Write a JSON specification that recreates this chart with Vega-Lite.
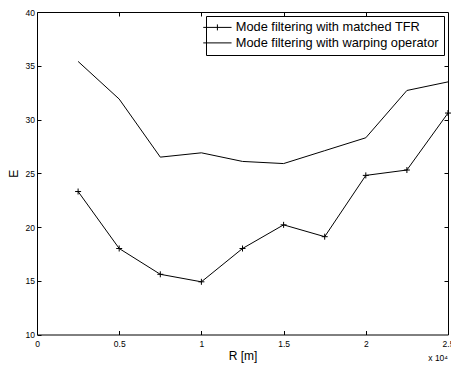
{
  "$schema": "https://vega.github.io/schema/vega-lite/v6.json",
  "width": 411,
  "height": 322.5,
  "autosize": {"type": "none"},
  "padding": {"left": 37, "top": 12, "right": 3, "bottom": 30.5},
  "background": "white",
  "datasets": {
    "curves": [
      {"R": 2500, "E": 23.3, "series": "Mode filtering with matched TFR"},
      {"R": 5000, "E": 18.0, "series": "Mode filtering with matched TFR"},
      {"R": 7500, "E": 15.6, "series": "Mode filtering with matched TFR"},
      {"R": 10000, "E": 14.9, "series": "Mode filtering with matched TFR"},
      {"R": 12500, "E": 18.0, "series": "Mode filtering with matched TFR"},
      {"R": 15000, "E": 20.2, "series": "Mode filtering with matched TFR"},
      {"R": 17500, "E": 19.1, "series": "Mode filtering with matched TFR"},
      {"R": 20000, "E": 24.8, "series": "Mode filtering with matched TFR"},
      {"R": 22500, "E": 25.3, "series": "Mode filtering with matched TFR"},
      {"R": 25000, "E": 30.6, "series": "Mode filtering with matched TFR"},
      {"R": 2500, "E": 35.4, "series": "Mode filtering with warping operator"},
      {"R": 5000, "E": 31.9, "series": "Mode filtering with warping operator"},
      {"R": 7500, "E": 26.5, "series": "Mode filtering with warping operator"},
      {"R": 10000, "E": 26.9, "series": "Mode filtering with warping operator"},
      {"R": 12500, "E": 26.1, "series": "Mode filtering with warping operator"},
      {"R": 15000, "E": 25.9, "series": "Mode filtering with warping operator"},
      {"R": 17500, "E": 27.1, "series": "Mode filtering with warping operator"},
      {"R": 20000, "E": 28.3, "series": "Mode filtering with warping operator"},
      {"R": 22500, "E": 32.7, "series": "Mode filtering with warping operator"},
      {"R": 25000, "E": 33.5, "series": "Mode filtering with warping operator"}
    ],
    "scaleNote": [{"R": 25000, "E": 10, "label": "x 10⁴"}]
  },
  "config": {
    "font": "Liberation Sans",
    "view": {"stroke": "black", "strokeWidth": 1},
    "axis": {
      "grid": false,
      "domain": false,
      "tickColor": "black",
      "tickWidth": 1,
      "tickSize": -4,
      "labelColor": "black",
      "labelFont": "Liberation Sans",
      "labelFontSize": 8.5,
      "titleColor": "black",
      "titleFont": "Liberation Sans",
      "titleFontSize": 12,
      "titleFontWeight": "normal"
    },
    "legend": {
      "orient": "top-right",
      "offset": 4,
      "strokeColor": "black",
      "fillColor": "white",
      "cornerRadius": 0,
      "padding": 5,
      "labelFont": "Liberation Sans",
      "labelFontSize": 12.8,
      "labelColor": "black",
      "labelLimit": 0,
      "symbolStrokeWidth": 1,
      "symbolSize": 36,
      "labelOffset": 12,
      "rowPadding": 1.5
    }
  },
  "resolve": {"axis": {"x": "independent", "y": "independent"}},
  "layer": [
    {
      "data": {"name": "curves"},
      "mark": {"type": "line", "strokeWidth": 1},
      "encoding": {
        "x": {
          "field": "R",
          "type": "quantitative",
          "scale": {"domain": [0, 25000], "nice": false, "zero": false},
          "axis": {
            "orient": "bottom",
            "title": "R [m]",
            "values": [0, 5000, 10000, 15000, 20000, 25000],
            "labelExpr": "datum.value / 10000 + ''",
            "labelFlush": false,
            "labelPadding": 8.5,
            "titlePadding": 3
          }
        },
        "y": {
          "field": "E",
          "type": "quantitative",
          "scale": {"domain": [10, 40], "nice": false, "zero": false},
          "axis": {
            "orient": "left",
            "title": "E",
            "values": [10, 15, 20, 25, 30, 35, 40],
            "labelFlush": false,
            "labelPadding": 6.5,
            "titlePadding": 5
          }
        },
        "stroke": {
          "field": "series",
          "type": "nominal",
          "scale": {
            "domain": ["Mode filtering with matched TFR", "Mode filtering with warping operator"],
            "range": ["black", "black"]
          },
          "legend": {
            "title": null,
            "encode": {
              "symbols": {
                "update": {
                  "shape": {"signal": "datum.value === 'Mode filtering with matched TFR' ? 'M-4.72,0H4.72M0,-1V1' : 'M-4.72,0H4.72'"}
                }
              }
            }
          }
        }
      }
    },
    {
      "data": {"name": "curves"},
      "transform": [{"filter": "datum.series === 'Mode filtering with matched TFR'"}],
      "mark": {
        "type": "point",
        "shape": "M-1,0H1M0,-1V1",
        "size": 36,
        "filled": false,
        "stroke": "black",
        "strokeWidth": 1,
        "opacity": 1
      },
      "encoding": {
        "x": {
          "field": "R",
          "type": "quantitative",
          "axis": {
            "orient": "top",
            "labels": false,
            "title": null,
            "values": [5000, 10000, 15000, 20000]
          }
        },
        "y": {
          "field": "E",
          "type": "quantitative",
          "axis": {
            "orient": "right",
            "labels": false,
            "title": null,
            "values": [15, 20, 25, 30, 35]
          }
        }
      }
    },
    {
      "data": {"name": "scaleNote"},
      "mark": {
        "type": "text",
        "align": "right",
        "baseline": "alphabetic",
        "dy": 26,
        "fontSize": 8.5,
        "font": "Liberation Sans",
        "color": "black"
      },
      "encoding": {
        "x": {"field": "R", "type": "quantitative", "axis": null},
        "y": {"field": "E", "type": "quantitative", "axis": null},
        "text": {"field": "label"}
      }
    }
  ]
}
